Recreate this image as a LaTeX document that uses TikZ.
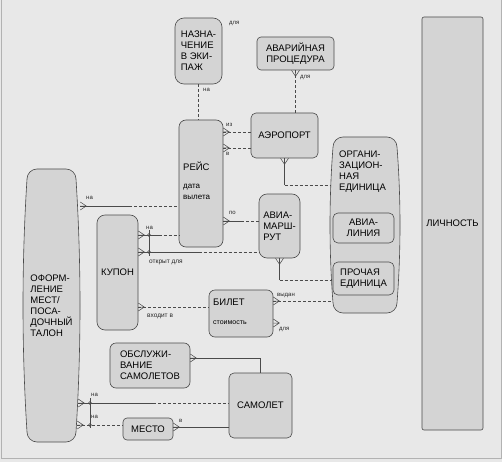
\documentclass[tikz,border=0pt]{standalone}
\usepackage{fontspec}
\setmainfont{Liberation Sans}
\usetikzlibrary{calc}
\definecolor{bg}{HTML}{E8E8E8}
\definecolor{boxfill}{HTML}{D4D4D4}
\definecolor{edge}{HTML}{4A4A4A}
\newcommand\halfrel[2]{\draw[rel] (#1) -- ($(#1)!.5!(#2)$); \draw[opt] ($(#1)!.5!(#2)$) -- (#2);}
% barrel outline: left, top, right, bottom, inset, radius
\newcommand\barrelpath[6]{%
  \pgfmathsetmacro\bL{#1+#5}\pgfmathsetmacro\bR{#3-#5}%
  \pgfmathsetmacro\bT{#2}\pgfmathsetmacro\bB{#4}%
  \pgfmathsetmacro\bA{#2+#6}\pgfmathsetmacro\bZ{#4-#6}%
  \pgfmathsetmacro\bThird{(#4-#2-2*#6)/3}%
  \pgfmathsetmacro\bCL{#1-#5/3+#5*0}\pgfmathsetmacro\bCR{#3+#5/3}%
  \pgfmathsetmacro\bK{0.45*#6}%
  \draw[barrel] ({\bL+#6},\bT) -- ({\bR-#6},\bT)
    .. controls ({\bR-\bK},\bT) and (\bR,{\bT+\bK}) .. (\bR,\bA)
    .. controls (\bCR,{\bA+\bThird}) and (\bCR,{\bZ-\bThird}) .. (\bR,\bZ)
    .. controls (\bR,{\bB-\bK}) and ({\bR-\bK},\bB) .. ({\bR-#6},\bB)
    -- ({\bL+#6},\bB)
    .. controls ({\bL+\bK},\bB) and (\bL,{\bB-\bK}) .. (\bL,\bZ)
    .. controls ({#1-#5/3},{\bZ-\bThird}) and ({#1-#5/3},{\bA+\bThird}) .. (\bL,\bA)
    .. controls (\bL,{\bT+\bK}) and ({\bL+\bK},\bT) .. ({\bL+#6},\bT) -- cycle;}
\begin{document}
\begin{tikzpicture}[x=1pt,y=-1pt,
  ent/.style={draw=edge, fill=boxfill, rounded corners=6pt, inner sep=0pt, line width=0.6pt,
    font=\fontsize{9.5}{11}\selectfont, align=left},
  plain/.style={inner sep=0pt, font=\fontsize{9.5}{11}\selectfont, align=left},
  lab/.style={font=\fontsize{6}{7}\selectfont, inner sep=0pt, text=black!85},
  rel/.style={draw=edge, line width=0.5pt},
  opt/.style={rel, dash pattern=on 3pt off 2pt},
  barrel/.style={draw=edge, fill=boxfill, line width=0.6pt},
  crow/.pic={\draw[edge, line width=0.5pt] (0,-4) -- (6,0) -- (0,4) (0,0) -- (6,0);}]
\useasboundingbox (0,0) rectangle (502,462);
\fill[bg] (0,0) rectangle (502,462);
\draw[gray!60, line width=1pt] (1,0) -- (1,458) -- (501,458) -- (501,0);

% entities
\node[ent, rounded corners=9pt, minimum width=47pt, minimum height=66pt] (naz) at (198.5,51) {НАЗНА-\\ЧЕНИЕ\\В ЭКИ-\\ПАЖ};
\node[ent, rounded corners=4pt, minimum width=77pt, minimum height=33pt, align=center] (avar) at (295.5,53.5) {АВАРИЙНАЯ\\ПРОЦЕДУРА};
\node[ent, rounded corners=5pt, minimum width=67pt, minimum height=45pt] (aero) at (284.5,135.5) {АЭРОПОРТ};
\node[ent, rounded corners=7pt, minimum width=44pt, minimum height=127pt] (rejs) at (201,183.5) {};
\node[plain, anchor=west] (rejsT) at (183,166) {РЕЙС};
\node[plain, anchor=north west, font=\fontsize{8}{10.5}\selectfont] (rejsD) at (183,184) {дата\\вылета};
\node[ent, rounded corners=8pt, minimum width=41pt, minimum height=64pt] (avia) at (279.5,226) {АВИА-\\МАРШ-\\РУТ};

% organisational unit (barrel)
\node[inner sep=0pt, minimum width=70pt, minimum height=176pt] (org) at (365,225) {};
\barrelpath{330}{137}{400}{313}{3}{10}
\node[plain, anchor=north west] (orgT) at (339,151) {ОРГАНИ-\\ЗАЦИОН-\\НАЯ\\ЕДИНИЦА};
\node[ent, rounded corners=5pt, minimum width=61pt, minimum height=30pt, align=center] (avl) at (363.5,228) {АВИА-\\ЛИНИЯ};
\node[ent, rounded corners=5pt, minimum width=61pt, minimum height=33pt] (pro) at (363.5,278.5) {ПРОЧАЯ\\ЕДИНИЦА};

\node[ent, rounded corners=2pt, minimum width=61pt, minimum height=413pt] (lich) at (452.5,223.5) {ЛИЧНОСТЬ};

% boarding (barrel)
\node[inner sep=0pt, minimum width=57pt, minimum height=273pt] (ofo) at (51.5,305.5) {};
\barrelpath{23}{169}{80}{442}{4}{10}
\node[plain] (ofoT) at (51.5,305.5) {ОФОРМ-\\ЛЕНИЕ\\МЕСТ/\\ПОСА-\\ДОЧНЫЙ\\ТАЛОН};

\node[ent, rounded corners=8pt, minimum width=41pt, minimum height=115pt] (kup) at (117.5,272.5) {КУПОН};
\node[ent, rounded corners=6pt, minimum width=64pt, minimum height=47pt] (bil) at (241,313.5) {};
\node[plain, anchor=west] (bilT) at (213,302) {БИЛЕТ};
\node[plain, anchor=west, font=\fontsize{7}{8}\selectfont] (bilD) at (213,323) {стоимость};
\node[ent, rounded corners=6pt, minimum width=80pt, minimum height=45pt] (obs) at (150,365.5) {ОБСЛУЖИ-\\ВАНИЕ\\САМОЛЕТОВ};
\node[ent, rounded corners=5pt, minimum width=63pt, minimum height=65pt] (sam) at (260.5,405.5) {САМОЛЕТ};
\node[ent, rounded corners=4pt, minimum width=50pt, minimum height=22pt] (mes) at (148,429) {МЕСТО};

% ports
\coordinate (nazB) at (naz.south);
\coordinate (rejsTop) at (naz.south |- rejs.north);
\coordinate (avarB) at (avar.south);
\coordinate (aeroTop) at (avar.south |- aero.north);
\coordinate (rz1) at (rejs.east |- 0,132);  \coordinate (ae1) at (aero.west |- 0,132);
\coordinate (rz2) at (rejs.east |- 0,148);  \coordinate (ae2) at (aero.west |- 0,148);
\coordinate (rz3) at (rejs.east |- 0,221);  \coordinate (av3) at (avia.west |- 0,221);
\coordinate (aeroB) at (aero.south);  \coordinate (aeroK) at (aero.south |- 0,185);  \coordinate (orgA) at ([xshift=0.5pt]org.west |- 0,185);
\coordinate (aviaB) at (avia.south);  \coordinate (aviaK) at (avia.south |- 0,280);  \coordinate (orgB) at ([xshift=1.5pt]org.west |- 0,280);
\coordinate (of1) at (ofo.east |- 0,206);  \coordinate (re1) at (rejs.west |- 0,206);
\coordinate (ku1) at (kup.east |- 0,235);  \coordinate (re2) at (rejs.west |- 0,235);
\coordinate (ku2) at (kup.east |- 0,252);  \coordinate (av2) at (avia.west |- 0,252);
\coordinate (ku3) at (kup.east |- 0,307);  \coordinate (bi3) at (bil.west |- 0,307);
\coordinate (bi1) at (bil.east |- 0,301);  \coordinate (or1) at ([xshift=2.5pt]org.west |- 0,301);
\coordinate (bi2) at (bil.east |- 0,323);
\coordinate (ob1) at (obs.east |- 0,358);
\coordinate (of2) at ([xshift=-2pt]ofo.east |- 0,403);  \coordinate (sa2) at (sam.west |- 0,403);
\coordinate (of3) at ([xshift=-3pt]ofo.east |- 0,425);  \coordinate (me3) at (mes.west |- 0,425);
\coordinate (me4) at (mes.east |- 0,427);  \coordinate (sa4) at (sam.west |- 0,427);

% relationships
\draw[opt] (nazB) -- (rejsTop);
\draw[opt] (avarB) -- (aeroTop);
\pic[rotate=-90] at (avarB) {crow};
\draw[opt] (rz1) -- (ae1);  \pic at (rz1) {crow};
\draw[opt] (rz2) -- (ae2);  \pic at (rz2) {crow};
\halfrel{rz3}{av3}  \pic at (rz3) {crow};
\draw[rel] (aeroB) -- (aeroK);  \draw[opt] (aeroK) -- (orgA);  \pic[rotate=-90] at (aeroB) {crow};
\draw[rel] (aviaB) -- (aviaK);  \draw[opt] (aviaK) -- (orgB);  \pic[rotate=-90] at (aviaB) {crow};
\halfrel{of1}{re1}  \pic at (of1) {crow};
\halfrel{ku1}{re2}  \pic at (ku1) {crow};
\halfrel{ku2}{av2}  \pic at (ku2) {crow};
\draw[opt] (ku3) -- (bi3);  \pic at (ku3) {crow};
\draw[opt] (bi1) -- (or1);  \pic at (bi1) {crow};
\pic at (bi2) {crow};
\draw[rel] (ob1) -| (sam.north);  \pic at (ob1) {crow};
\halfrel{of2}{sa2}  \pic at (of2) {crow};
\draw[opt] (of3) -- (me3);  \pic at (of3) {crow};
\draw[rel] (me4) -- (sa4);  \pic at (me4) {crow};

% exclusive arcs
\coordinate (arcA1) at (149,230); \coordinate (arcA2) at (149,256);
\draw[rel] (arcA1) -- (arcA2);
\draw[edge, line width=0.4pt] (149,235) circle (1.5pt) (149,252) circle (1.5pt);
\coordinate (arcB1) at (90,398); \coordinate (arcB2) at (90,428);
\draw[rel] (arcB1) -- (arcB2);
\draw[edge, line width=0.4pt] (90,403) circle (1.5pt) (90,425) circle (1.5pt);

% labels
\node[lab, anchor=west] (t1) at (229,24) {для};
\node[lab, anchor=west] (t2) at (203,90) {на};
\node[lab, anchor=west] (t3) at (300,78) {для};
\node[lab, anchor=west] (t4) at (226,125) {из};
\node[lab, anchor=west] (t5) at (226,154) {в};
\node[lab, anchor=west] (t6) at (229,213) {по};
\node[lab, anchor=west] (t7) at (86,198) {на};
\node[lab, anchor=west] (t8) at (146,228) {на};
\node[lab, anchor=west, font=\fontsize{6.5}{7}\selectfont] (t9) at (149,262) {открыт для};
\node[lab, anchor=west, font=\fontsize{6.5}{7}\selectfont] (t10) at (147,316) {входит в};
\node[lab, anchor=west] (t11) at (277,295) {выдан};
\node[lab, anchor=west] (t12) at (279,330) {для};
\node[lab, anchor=west] (t13) at (91,395) {на};
\node[lab, anchor=west] (t14) at (91,417) {на};
\node[lab, anchor=west] (t15) at (179,421) {в};
\end{tikzpicture}
\end{document}
